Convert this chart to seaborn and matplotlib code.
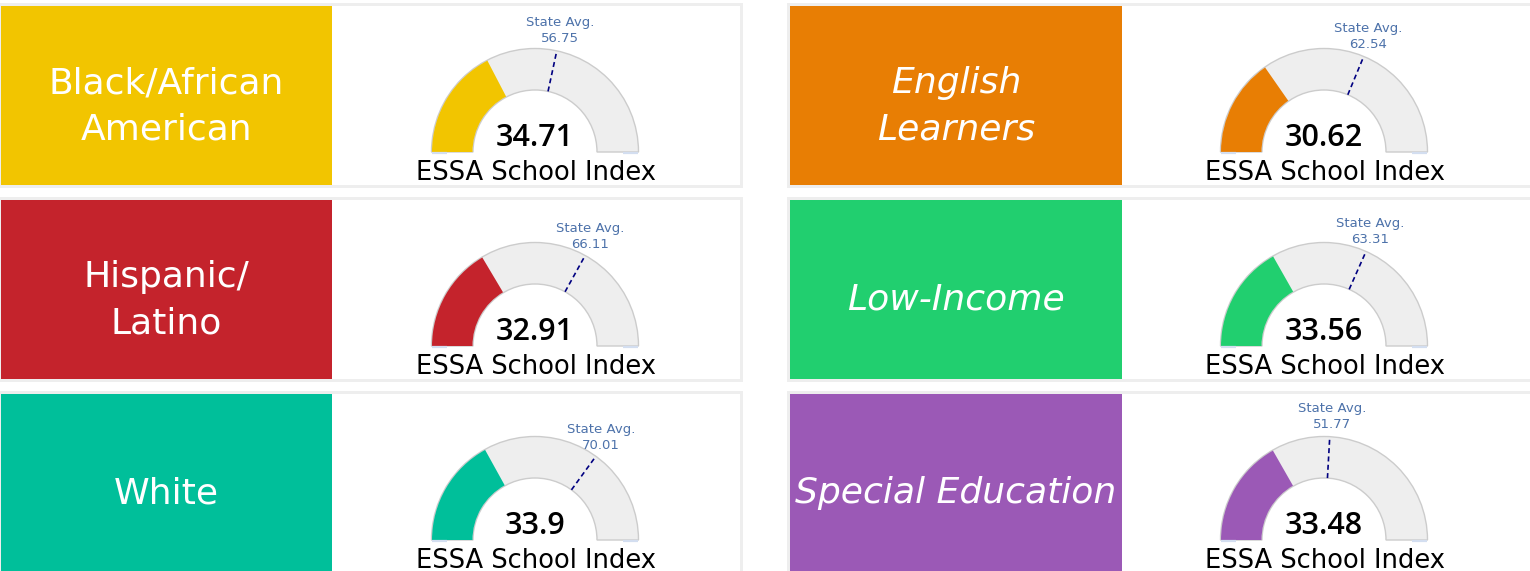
import numpy as np
import matplotlib
matplotlib.use("Agg")
import matplotlib.pyplot as plt
from matplotlib.patches import Wedge, Rectangle
import seaborn as sns

# ---------------- data ----------------
groups = ["Black/African\nAmerican", "English\nLearners", "Hispanic/\nLatino",
          "Low-Income", "White", "Special Education"]
values = [34.71, 30.62, 32.91, 33.56, 33.9, 33.48]
state_avg = [56.75, 62.54, 66.11, 63.31, 70.01, 51.77]
italic = [False, True, False, True, False, True]
colors = ["#F2C500", "#E87E04", "#C4232C", "#21CF6F", "#00BF9A", "#9B59B6"]
gauge_min, gauge_max = 0, 100
subtitle = "ESSA School Index"

sns.set_theme(style="white")
plt.rcParams["font.family"] = ["DejaVu Sans"]

W, H = 1530, 571
fig = plt.figure(figsize=(W / 100, H / 100), dpi=100)
ax = fig.add_axes([0, 0, 1, 1])
ax.set_xlim(0, W)
ax.set_ylim(0, H)
ax.axis("off")


def py(y):
    return H - y


col_x = [(-2, 743), (787, 1533)]
box_x = [(1, 332), (790, 1122)]
row_y = [3, 197, 391]
panel_h = 185
gauge_dx = 535
gauge_cy = 149
R_out, R_in = 103.5, 62

for i, (g, v, avg) in enumerate(zip(groups, values, state_avg)):
    row, col = divmod(i, 2)
    x0, x1 = col_x[col]
    y0 = row_y[row]
    # panel border
    ax.add_patch(Rectangle((x0, py(y0 + panel_h)), x1 - x0, panel_h,
                           facecolor="#EEEEEE", edgecolor="none"))
    ax.add_patch(Rectangle((x0 + 3, py(y0 + panel_h - 3)), x1 - x0 - 6, panel_h - 6,
                           facecolor="white", edgecolor="none"))
    # colored label box
    bx0, bx1 = box_x[col]
    ax.add_patch(Rectangle((bx0, py(y0 + panel_h - 3)), bx1 - bx0, panel_h - 6,
                           facecolor=colors[i], edgecolor="none"))
    bcx = (bx0 + bx1) / 2
    bcy = y0 + panel_h / 2
    lines = g.split("\n")
    style = "italic" if italic[i] else "normal"
    if len(lines) == 1:
        offs = [20]
    else:
        offs = [-2, 44]
    for ln, off in zip(lines, offs):
        ax.text(bcx, py(bcy + off), ln, ha="center", va="baseline",
                color="white", fontsize=26, family="DejaVu Sans", style=style)

    # gauge
    cx = (gauge_dx if col == 0 else box_x[1][0] - 1 + gauge_dx)
    cy = y0 + gauge_cy
    ax.add_patch(Wedge((cx, py(cy)), R_out, 0, 180, width=R_out - R_in,
                       facecolor="#EEEEEE", edgecolor="#CCCCCC", linewidth=1))
    frac = (v - gauge_min) / (gauge_max - gauge_min)
    a = 180 - frac * 180
    ax.add_patch(Wedge((cx, py(cy)), R_out - 0.5, a, 180, width=R_out - R_in - 1,
                       facecolor=colors[i], edgecolor="none"))
    # small pale base marks
    for sgn in (-1, 1):
        ax.plot([cx + sgn * 88, cx + sgn * 103], [py(cy + 0.8), py(cy + 0.8)],
                color="#D3DEF0", lw=1.6, solid_capstyle="butt")
    # state average marker
    fa = (avg - gauge_min) / (gauge_max - gauge_min)
    aa = np.deg2rad(180 - fa * 180)
    ax.plot([cx + R_in * np.cos(aa), cx + R_out * np.cos(aa)],
            [py(cy) + R_in * np.sin(aa), py(cy) + R_out * np.sin(aa)],
            color="#000080", lw=1.2, dashes=(3, 2))
    rl = 109
    ax.text(cx + rl * np.cos(aa) + 2, py(cy) + rl * np.sin(aa), f"State Avg.\n{avg:g}",
            ha="center", va="bottom", multialignment="center",
            color="#4D72AA", fontsize=9.5, linespacing=1.3)
    # value and subtitle
    ax.text(cx, py(cy - 6), f"{v:g}", ha="center", va="baseline",
            fontsize=22, fontweight="semibold", family="Open Sans", color="black")
    ax.text(cx + 1, py(cy + 28), subtitle, ha="center", va="baseline",
            fontsize=18.5, color="black")

fig.savefig("out.png", dpi=100)
